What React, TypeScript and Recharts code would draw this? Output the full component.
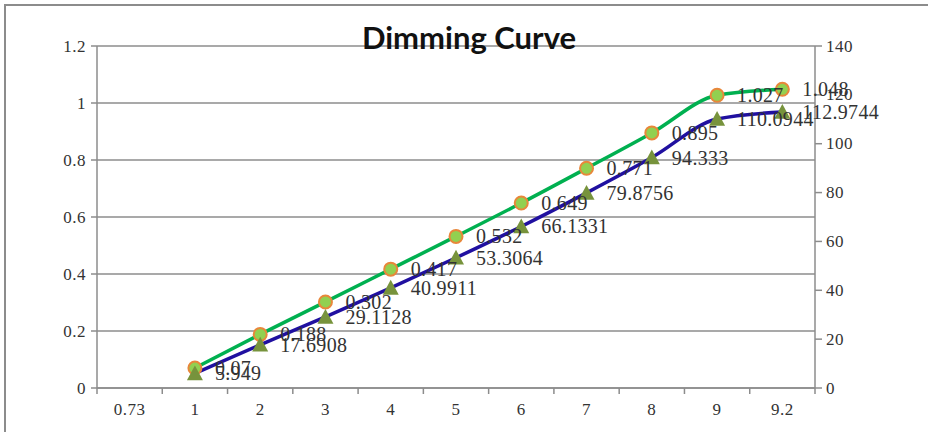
import { LineChart, Line, XAxis, YAxis, CartesianGrid } from "recharts";

const categories = ["0.73", "1", "2", "3", "4", "5", "6", "7", "8", "9", "9.2"];
const dimming = [null, 0.07, 0.188, 0.302, 0.417, 0.532, 0.649, 0.771, 0.895, 1.027, 1.048];
const output = [null, 5.949, 17.6908, 29.1128, 40.9911, 53.3064, 66.1331, 79.8756, 94.333, 110.0944, 112.9744];
const leftTicks = [0, 0.2, 0.4, 0.6, 0.8, 1, 1.2];
const rightTicks = [0, 20, 40, 60, 80, 100, 120, 140];

const data = categories.map((c, i) => ({ x: c, dim: dimming[i], out: output[i] }));

const W = 928;
const H = 432;
const LEFT_W = 97;
const RIGHT_W = 113;
const BAND = (W - LEFT_W - RIGHT_W) / categories.length;
const GREY = "#8c8c8c";
const SERIF = "'Liberation Serif', 'DejaVu Serif', serif";
const tickStyle = { fontFamily: SERIF, fontSize: 17, letterSpacing: 0.5 };

function XTick(props: any) {
  const { x, y, payload, index } = props;
  return (
    <g>
      {index === 0 && (
        <line x1={x - BAND / 2} x2={x - BAND / 2} y1={y} y2={y + 6} stroke={GREY} strokeWidth={1.5} />
      )}
      <line x1={x + BAND / 2} x2={x + BAND / 2} y1={y} y2={y + 6} stroke={GREY} strokeWidth={1.5} />
      <text x={x} y={y + 21} textAnchor="middle" dominantBaseline="central" fill="#333" style={tickStyle}>
        {payload.value}
      </text>
    </g>
  );
}

function YTick(props: any) {
  const { x, y, payload, textAnchor } = props;
  return (
    <text x={x} y={y} textAnchor={textAnchor} dominantBaseline="central" fill="#333" style={tickStyle}>
      {String(payload.value)}
    </text>
  );
}

function CircleDot(props: any) {
  const { cx, cy, index } = props;
  if (cy == null || isNaN(cy)) return <g key={index} />;
  return <circle key={index} cx={cx} cy={cy} r={6.5} fill="#92d050" stroke="#e8873a" strokeWidth={2} />;
}

function TriangleDot(props: any) {
  const { cx, cy, index } = props;
  if (cy == null || isNaN(cy)) return <g key={index} />;
  const s = 8;
  return (
    <path
      key={index}
      d={`M${cx},${cy - s} L${cx + s},${cy + s * 0.85} L${cx - s},${cy + s * 0.85} Z`}
      fill="#77933c"
    />
  );
}

function ValueLabel(props: any) {
  const { x, y, value, index } = props;
  if (value == null) return <g key={index} />;
  return (
    <text
      key={index}
      x={x + 20}
      y={y}
      dominantBaseline="central"
      fill="#333"
      style={{ fontFamily: SERIF, fontSize: 20, letterSpacing: 0.3 }}
    >
      {String(value)}
    </text>
  );
}

export default function App() {
  return (
    <div style={{ position: "absolute", left: 0, top: 0, width: W, height: H, overflow: "hidden", background: "#fff" }}>
      <div
        style={{
          position: "absolute",
          left: 4,
          top: 4,
          width: W + 20,
          height: H + 20,
          border: `2px solid ${GREY}`,
        }}
      />
      <LineChart width={W} height={H} data={data} margin={{ top: 46, right: 0, bottom: 0, left: 0 }}>
        <CartesianGrid yAxisId="left" vertical={false} stroke={GREY} strokeWidth={1.5} />
        <XAxis
          dataKey="x"
          scale="band"
          height={44}
          tickSize={0}
          tickMargin={0}
          tickLine={false}
          axisLine={{ stroke: GREY, strokeWidth: 1.5 }}
          tick={<XTick />}
          interval={0}
        />
        <YAxis
          yAxisId="left"
          orientation="left"
          width={LEFT_W}
          domain={[0, 1.2]}
          ticks={leftTicks}
          tickSize={6}
          tickMargin={5}
          axisLine={{ stroke: GREY, strokeWidth: 1.5 }}
          tickLine={{ stroke: GREY, strokeWidth: 1.5 }}
          tick={<YTick />}
        />
        <YAxis
          yAxisId="right"
          orientation="right"
          width={RIGHT_W}
          domain={[0, 140]}
          ticks={rightTicks}
          tickSize={7}
          tickMargin={4}
          axisLine={{ stroke: GREY, strokeWidth: 1.5 }}
          tickLine={{ stroke: GREY, strokeWidth: 1.5 }}
          tick={<YTick />}
        />
        <Line
          yAxisId="left"
          type="monotone"
          dataKey="dim"
          stroke="#00b050"
          strokeWidth={3.5}
          dot={<CircleDot />}
          activeDot={false}
          label={<ValueLabel />}
          isAnimationActive={false}
        />
        <Line
          yAxisId="right"
          type="monotone"
          dataKey="out"
          stroke="#2010a0"
          strokeWidth={3.5}
          dot={<TriangleDot />}
          activeDot={false}
          label={<ValueLabel />}
          isAnimationActive={false}
        />
      </LineChart>
      <div
        style={{
          position: "absolute",
          left: 0,
          top: 22,
          width: 938,
          textAlign: "center",
          fontFamily: "Lato, 'Open Sans', sans-serif",
          fontWeight: 700,
          fontSize: 31,
          lineHeight: 1,
          color: "#111",
        }}
      >
        Dimming Curve
      </div>
    </div>
  );
}
